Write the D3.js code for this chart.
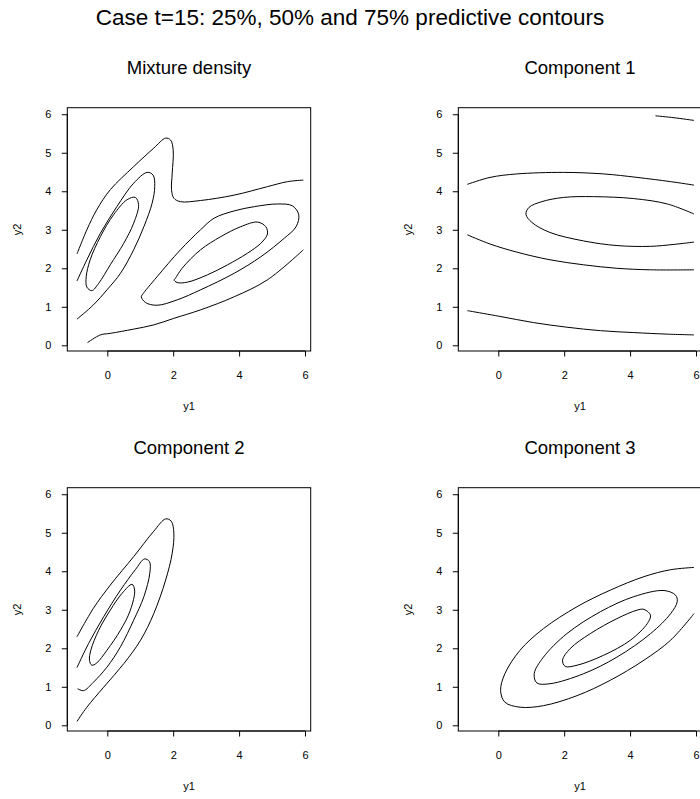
<!DOCTYPE html>
<html>
<head>
<meta charset="utf-8">
<script src="https://cdn.jsdelivr.net/npm/d3@7"></script>
<style>
  body { margin: 0; background: #fff; }
  text { font-family: "Liberation Sans", Arial, sans-serif; fill: #000; }
</style>
</head>
<body>
<script>
// titles
var mainTitle = "Case t=15: 25%, 50% and 75% predictive contours";
var panelTitles = ["Mixture density", "Component 1", "Component 2", "Component 3"];
var xTicks = [0, 2, 4, 6];
var yTicks = [0, 1, 2, 3, 4, 5, 6];

// contour lines, [y1, y2] pairs
var mixtureOpen = [
  [[-0.92,2.37],[-0.62,3.0],[-0.32,3.52],[0.09,4.04],[0.80,4.64],[1.41,5.12],[1.77,5.38],[1.92,5.33],[2.0,5.07],[1.97,4.47],[1.95,4.04],[2.02,3.82],[2.22,3.73],[2.83,3.76],[3.85,3.90],[4.86,4.12],[5.47,4.25],[5.95,4.29]],
  [[-0.60,0.07],[-0.21,0.27],[0.09,0.31],[0.80,0.42],[1.41,0.53],[2.02,0.70],[2.83,0.92],[3.85,1.26],[4.86,1.70],[5.95,2.48]],
  [[-0.92,1.67],[-0.62,2.22],[-0.21,2.91],[0.29,3.60],[0.80,4.21],[1.21,4.49],[1.39,4.42],[1.44,4.12],[1.36,3.69],[1.11,3.08],[0.80,2.48],[0.40,1.87],[-0.01,1.44],[-0.42,1.05],[-0.92,0.68]]
];
var mixtureClosed = [
  [[0.85,3.84],[0.95,3.65],[0.80,3.17],[0.50,2.65],[0.09,2.09],[-0.26,1.61],[-0.47,1.42],[-0.62,1.51],[-0.64,1.78],[-0.52,2.22],[-0.21,2.82],[0.19,3.39],[0.60,3.78]],
  [[1.06,1.31],[1.51,1.78],[2.22,2.48],[2.83,3.0],[3.24,3.30],[3.85,3.49],[4.46,3.60],[5.17,3.67],[5.62,3.62],[5.81,3.39],[5.73,3.08],[5.37,2.78],[4.66,2.30],[3.85,1.87],[2.83,1.44],[2.12,1.18],[1.51,1.04],[1.16,1.11],[1.03,1.26]],
  [[2.04,1.71],[2.27,2.0],[2.83,2.48],[3.44,2.82],[4.05,3.08],[4.56,3.20],[4.81,3.08],[4.86,2.89],[4.66,2.65],[4.25,2.39],[3.65,2.09],[3.04,1.83],[2.43,1.64],[2.12,1.63],[2.02,1.70]]
];

var comp1Open = [
  [[4.77,5.96],[5.33,5.91],[5.94,5.84]],
  [[-0.94,4.18],[-0.25,4.36],[0.56,4.45],[1.98,4.49],[3.20,4.45],[4.21,4.36],[5.23,4.25],[5.94,4.16]],
  [[5.94,3.41],[5.13,3.67],[4.11,3.81],[2.89,3.86],[1.98,3.84],[1.32,3.73],[0.93,3.58],[0.84,3.40],[1.02,3.19],[1.57,2.93],[2.59,2.71],[3.60,2.59],[4.62,2.57],[5.33,2.62],[5.94,2.68]],
  [[-0.94,2.87],[-0.25,2.63],[0.56,2.42],[1.57,2.22],[2.59,2.09],[3.60,2.0],[4.62,1.96],[5.94,1.96]],
  [[-0.94,0.90],[0.05,0.75],[1.07,0.59],[2.08,0.47],[3.10,0.38],[4.11,0.33],[5.13,0.29],[5.94,0.27]]
];
var comp1Closed = [];

var comp2Open = [
  [[-0.92,2.30],[-0.42,3.04],[0.09,3.64],[0.80,4.38],[1.41,5.04],[1.77,5.36],[1.94,5.30],[2.02,4.99],[1.97,4.47],[1.77,3.77],[1.41,2.90],[1.01,2.21],[0.50,1.60],[-0.11,0.99],[-0.62,0.47],[-0.92,0.10]],
  [[-0.92,1.50],[-0.57,2.12],[-0.11,2.82],[0.40,3.51],[0.85,4.04],[1.13,4.32],[1.28,4.25],[1.29,3.95],[1.11,3.34],[0.80,2.73],[0.40,2.04],[-0.01,1.51],[-0.42,1.12],[-0.72,0.90],[-0.90,0.95]]
];
var comp2Closed = [
  [[0.75,3.66],[0.83,3.51],[0.70,2.99],[0.40,2.47],[-0.01,1.95],[-0.32,1.62],[-0.47,1.56],[-0.54,1.69],[-0.50,1.95],[-0.26,2.47],[0.09,2.99],[0.45,3.43]]
];

var comp3Open = [
  [[5.94,4.10],[5.23,4.04],[4.42,3.86],[3.40,3.51],[2.39,3.08],[1.37,2.51],[0.66,1.95],[0.20,1.34],[0.07,0.90],[0.20,0.60],[0.66,0.47],[1.37,0.51],[2.39,0.77],[3.40,1.17],[4.42,1.69],[5.23,2.21],[5.94,2.90]]
];
var comp3Closed = [
  [[5.03,3.50],[5.38,3.38],[5.43,3.21],[5.23,2.90],[4.62,2.38],[3.60,1.77],[2.59,1.34],[1.57,1.08],[1.17,1.10],[1.09,1.34],[1.37,1.77],[2.08,2.38],[3.10,2.95],[4.11,3.34]],
  [[4.42,3.01],[4.62,2.86],[4.52,2.64],[4.01,2.21],[3.20,1.82],[2.39,1.56],[2.03,1.53],[1.95,1.69],[2.18,1.99],[2.79,2.38],[3.60,2.77],[4.21,2.99]]
];

var panels = [
  { title: panelTitles[0], open: mixtureOpen, closed: mixtureClosed },
  { title: panelTitles[1], open: comp1Open, closed: comp1Closed },
  { title: panelTitles[2], open: comp2Open, closed: comp2Closed },
  { title: panelTitles[3], open: comp3Open, closed: comp3Closed }
];

var W = 700, H = 799;
var boxW = 243.4, boxH = 243.3;
var origins = [[67.3, 107.7], [458.3, 107.7], [67.3, 487.7], [458.3, 487.7]];

var svg = d3.select("body").append("svg")
    .attr("width", W)
    .attr("height", H);

svg.append("text")
    .attr("x", 350)
    .attr("y", 25)
    .attr("text-anchor", "middle")
    .style("font-size", "22.5px")
    .text(mainTitle);

var x = d3.scaleLinear().domain([-1.214, 6.173]).range([0, boxW]);
var y = d3.scaleLinear().domain([-0.148, 6.17]).range([boxH, 0]);

var openLine = d3.line()
    .x(function (d) { return x(d[0]); })
    .y(function (d) { return y(d[1]); })
    .curve(d3.curveCatmullRom);

var closedLine = d3.line()
    .x(function (d) { return x(d[0]); })
    .y(function (d) { return y(d[1]); })
    .curve(d3.curveCatmullRomClosed);

panels.forEach(function (p, i) {
  var g = svg.append("g")
      .attr("transform", "translate(" + origins[i][0] + "," + origins[i][1] + ")");

  // panel title
  g.append("text")
      .attr("x", boxW / 2)
      .attr("y", -33.5)
      .attr("text-anchor", "middle")
      .style("font-size", "18.5px")
      .text(p.title);

  // box
  g.append("rect")
      .attr("x", 0)
      .attr("y", 0)
      .attr("width", boxW)
      .attr("height", boxH)
      .attr("fill", "none")
      .attr("stroke", "#000")
      .attr("stroke-width", 1);

  // x axis
  var xAxis = d3.axisBottom(x)
      .tickValues(xTicks)
      .tickFormat(d3.format("d"))
      .tickSize(5.5)
      .tickPadding(15);
  var gx = g.append("g")
      .attr("transform", "translate(0," + boxH + ")")
      .call(xAxis);
  gx.select(".domain").remove();
  gx.append("line")
      .attr("x1", x(xTicks[0]))
      .attr("x2", x(xTicks[xTicks.length - 1]))
      .attr("stroke", "#000");
  gx.selectAll("text").style("font-size", "11px").attr("fill", "#000");

  // y axis
  var yAxis = d3.axisLeft(y)
      .tickValues(yTicks)
      .tickFormat(d3.format("d"))
      .tickSize(5.5);
  var gy = g.append("g").call(yAxis);
  gy.select(".domain").remove();
  gy.append("line")
      .attr("y1", y(yTicks[0]))
      .attr("y2", y(yTicks[yTicks.length - 1]))
      .attr("stroke", "#000");
  gy.selectAll("text")
      .style("font-size", "11px")
      .attr("fill", "#000")
      .attr("text-anchor", "middle")
      .attr("x", -19);

  // axis labels
  g.append("text")
      .attr("x", boxW / 2)
      .attr("y", boxH + 59)
      .attr("text-anchor", "middle")
      .style("font-size", "11px")
      .text("y1");

  g.append("text")
      .attr("transform", "translate(" + (-46.5) + "," + (boxH / 2) + ") rotate(-90)")
      .attr("text-anchor", "middle")
      .style("font-size", "11px")
      .text("y2");

  // contours
  var clip = "clip" + i;
  g.append("clipPath").attr("id", clip)
    .append("rect").attr("width", boxW).attr("height", boxH);

  var cg = g.append("g").attr("clip-path", "url(#" + clip + ")");

  cg.selectAll(".open")
      .data(p.open)
    .enter().append("path")
      .attr("class", "open")
      .attr("d", openLine)
      .attr("fill", "none")
      .attr("stroke", "#000")
      .attr("stroke-width", 1);

  cg.selectAll(".closed")
      .data(p.closed)
    .enter().append("path")
      .attr("class", "closed")
      .attr("d", closedLine)
      .attr("fill", "none")
      .attr("stroke", "#000")
      .attr("stroke-width", 1);
});
</script>
</body>
</html>
